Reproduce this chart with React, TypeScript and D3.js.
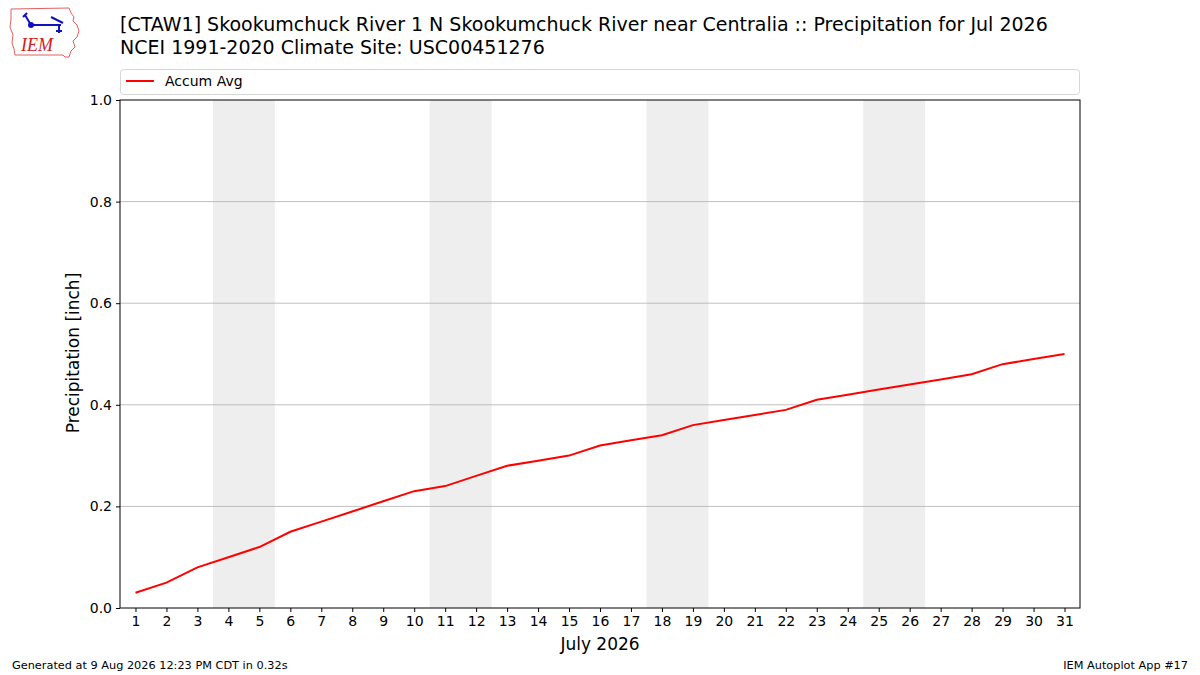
import * as d3 from "d3";
import { useEffect, useRef } from "react";

// day of month
const days: number[] = d3.range(1, 32);
// accumulated average precipitation [inch]
const accumAvg: number[] = [
	0.03, 0.05, 0.08, 0.1, 0.12, 0.15, 0.17, 0.19, 0.21, 0.23, 0.24, 0.26, 0.28,
	0.29, 0.3, 0.32, 0.33, 0.34, 0.36, 0.37, 0.38, 0.39, 0.41, 0.42, 0.43, 0.44,
	0.45, 0.46, 0.48, 0.49, 0.5,
];
// weekend pairs (Sat, Sun) for July 2026
const weekends: [number, number][] = [
	[4, 5],
	[11, 12],
	[18, 19],
	[25, 26],
];
const yTicks: number[] = [0, 0.2, 0.4, 0.6, 0.8, 1.0];

const title1 =
	"[CTAW1] Skookumchuck River 1 N Skookumchuck River near Centralia :: Precipitation for Jul 2026";
const title2 = "NCEI 1991-2020 Climate Site: USC00451276";

const width = 1200;
const height = 675;
const margin = { top: 100, right: 120, bottom: 67, left: 120 };
const font = "DejaVu Sans, sans-serif";

const App = () => {
	const svgRef = useRef<SVGSVGElement | null>(null);

	useEffect(() => {
		const svg = d3.select(svgRef.current);
		svg.selectAll("*").remove();

		const chartWidth = width - margin.left - margin.right;
		const chartHeight = height - margin.top - margin.bottom;

		const xScale = d3.scaleLinear().domain([0.5, 31.5]).range([0, chartWidth]);
		const yScale = d3.scaleLinear().domain([0, 1]).range([chartHeight, 0]);

		svg.append("rect").attr("width", width).attr("height", height).attr("fill", "white");

		const g = svg
			.append("g")
			.attr("transform", `translate(${margin.left},${margin.top})`);

		//weekend shading
		g.selectAll("rect.weekend")
			.data(weekends)
			.enter()
			.append("rect")
			.attr("class", "weekend")
			.attr("x", (d) => xScale(d[0] - 0.5))
			.attr("width", (d) => xScale(d[1] + 0.5) - xScale(d[0] - 0.5))
			.attr("y", 0)
			.attr("height", chartHeight)
			.attr("fill", "#eeeeee");

		//grid lines
		g.selectAll("line.grid")
			.data(yTicks.filter((t) => t > 0 && t < 1))
			.enter()
			.append("line")
			.attr("x1", 0)
			.attr("x2", chartWidth)
			.attr("y1", (d) => yScale(d))
			.attr("y2", (d) => yScale(d))
			.attr("stroke", "#b0b0b0")
			.attr("stroke-width", 0.8);

		//the line
		const line = d3
			.line<number>()
			.x((_, i) => xScale(days[i]))
			.y((d) => yScale(d));
		g.append("path")
			.datum(accumAvg)
			.attr("d", line)
			.attr("fill", "none")
			.attr("stroke", "red")
			.attr("stroke-width", 2);

		//frame
		g.append("rect")
			.attr("width", chartWidth)
			.attr("height", chartHeight)
			.attr("fill", "none")
			.attr("stroke", "black")
			.attr("stroke-width", 1);

		const xAxis = d3
			.axisBottom(xScale)
			.tickValues(days)
			.tickFormat((d) => `${d}`)
			.tickSize(4)
			.tickPadding(4);
		const xAxisGroup = g
			.append("g")
			.attr("transform", `translate(0,${chartHeight})`)
			.call(xAxis);

		const yAxis = d3
			.axisLeft(yScale)
			.tickValues(yTicks)
			.tickFormat(d3.format(".1f"))
			.tickSize(4)
			.tickPadding(4);
		const yAxisGroup = g.append("g").call(yAxis);

		[xAxisGroup, yAxisGroup].forEach((ax) => {
			ax.select(".domain").remove();
			ax.selectAll("text")
				.attr("font-family", font)
				.attr("font-size", 14)
				.attr("fill", "black");
			ax.selectAll("line").attr("stroke", "black");
		});

		//axis labels
		svg.append("text")
			.attr("x", margin.left + chartWidth / 2)
			.attr("y", 650)
			.attr("text-anchor", "middle")
			.attr("font-family", font)
			.attr("font-size", 17)
			.text("July 2026");
		svg.append("text")
			.attr("transform", `translate(79,${margin.top + chartHeight / 2 - 1}) rotate(-90)`)
			.attr("text-anchor", "middle")
			.attr("font-family", font)
			.attr("font-size", 17)
			.text("Precipitation [inch]");

		//legend
		svg.append("rect")
			.attr("x", 120.5)
			.attr("y", 69.5)
			.attr("width", 959)
			.attr("height", 25)
			.attr("rx", 3)
			.attr("fill", "white")
			.attr("stroke", "#d6d6d6");
		svg.append("line")
			.attr("x1", 126)
			.attr("x2", 154)
			.attr("y1", 81)
			.attr("y2", 81)
			.attr("stroke", "red")
			.attr("stroke-width", 2);
		svg.append("text")
			.attr("x", 165)
			.attr("y", 86)
			.attr("font-family", font)
			.attr("font-size", 14)
			.text("Accum Avg");

		//titles
		svg.append("text")
			.attr("x", 120)
			.attr("y", 31)
			.attr("font-family", font)
			.attr("font-size", 19)
			.text(title1);
		svg.append("text")
			.attr("x", 120)
			.attr("y", 54)
			.attr("font-family", font)
			.attr("font-size", 19)
			.text(title2);

		//footer
		svg.append("text")
			.attr("x", 12)
			.attr("y", 669)
			.attr("font-family", font)
			.attr("font-size", 11.3)
			.text("Generated at 9 Aug 2026 12:23 PM CDT in 0.32s");
		svg.append("text")
			.attr("x", 1188)
			.attr("y", 669)
			.attr("text-anchor", "end")
			.attr("font-family", font)
			.attr("font-size", 11.3)
			.text("IEM Autoplot App #17");

		//logo (rough Iowa outline)
		const logo = svg.append("g").attr("transform", "translate(9,7)");
		logo.append("path")
			.attr(
				"d",
				"M2,2 L60,1 L62,6 L65,10 L64,14 L68,18 L70,24 L68,30 L64,34 L66,40 L62,44 L60,50 L56,50 L54,48 L6,48 L5,42 L3,36 L4,28 L1,20 L2,12 Z"
			)
			.attr("fill", "white")
			.attr("stroke", "#e06060")
			.attr("stroke-width", 1);
		logo.append("text")
			.attr("x", 12)
			.attr("y", 44)
			.attr("font-family", "Liberation Serif, serif")
			.attr("font-style", "italic")
			.attr("font-size", 18)
			.attr("fill", "#d02020")
			.text("IEM");
		logo.append("path")
			.attr("d", "M22,18 L52,18 M50,18 L50,26 M47,24 L53,24 M54,16 L42,10 M22,18 L16,8 M14,10 L18,6")
			.attr("stroke", "#1010c0")
			.attr("stroke-width", 2)
			.attr("fill", "none");
		logo.append("circle").attr("cx", 22).attr("cy", 18).attr("r", 3).attr("fill", "#1010c0");
	}, []);

	return (
		<svg
			ref={svgRef}
			width={width}
			height={height}
			style={{ position: "absolute", left: 0, top: 0 }}
		/>
	);
};

export default App;
